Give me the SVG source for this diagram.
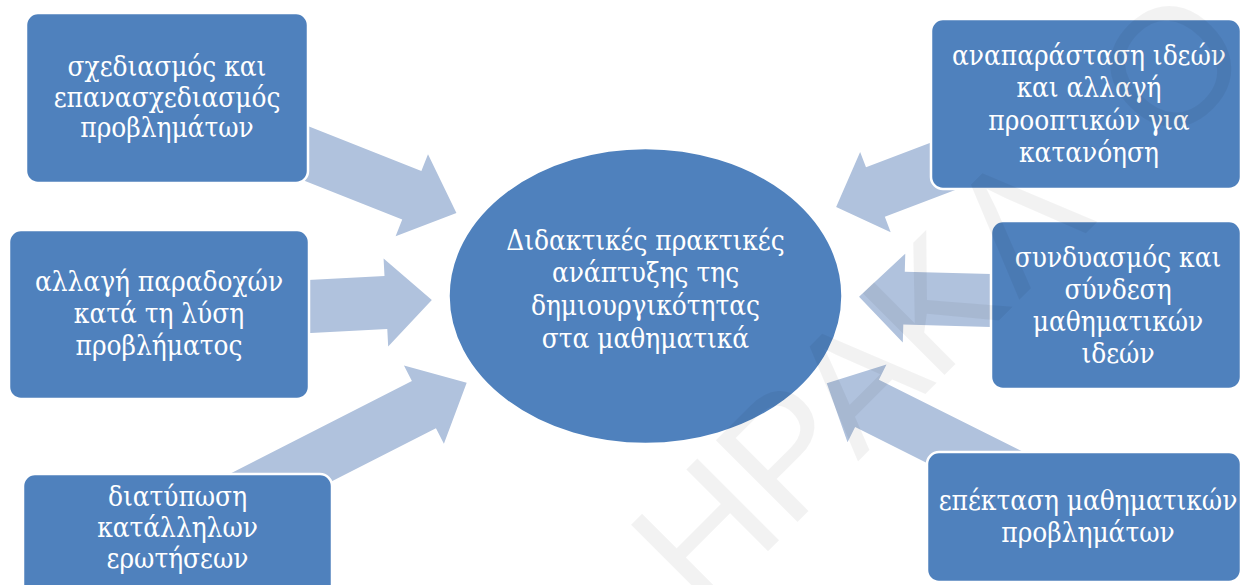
<svg xmlns="http://www.w3.org/2000/svg" width="1242" height="585" viewBox="0 0 1242 585">
  <style>
    .arrow { fill: #b0c2dd; }
    .node { fill: #4f81bd; stroke: #ffffff; stroke-width: 2.5; }
    .label { font-family: "DejaVu Serif Condensed", "DejaVu Serif", serif; font-stretch: condensed; font-size: 27.7px; fill: #ffffff; text-anchor: middle; }
    .mark { font-family: "Liberation Sans", Arial, sans-serif; font-size: 168px; fill: #000000; fill-opacity: 0.05; text-anchor: middle; }
  </style>

  <rect width="1242" height="585" fill="#ffffff"/>

  <!-- block arrows pointing at the central ellipse -->
  <g id="connectors">
    <polygon class="arrow" points="0,-26 131,-26 131,-44 179,0 131,44 131,26 0,26" transform="translate(290,147) rotate(21.6)"/>
    <polygon class="arrow" points="0,-26.5 86,-26.5 86,-44 132,0 86,44 86,26.5 0,26.5" transform="translate(300,307) rotate(-3)"/>
    <polygon class="arrow" points="0,-26.5 230,-26.5 230,-44 278,0 230,44 230,26.5 0,26.5" transform="translate(219,509) rotate(-27)"/>
    <polygon class="arrow" points="0,-26.5 83,-26.5 83,-43 125,0 83,43 83,26.5 0,26.5" transform="translate(953,162.6) rotate(159.2)"/>
    <polygon class="arrow" points="0,-26.5 96,-26.5 96,-44.5 141,0 96,44.5 96,26.5 0,26.5" transform="translate(1000,300.8) rotate(181.6)"/>
    <polygon class="arrow" points="0,-26.5 170,-26.5 170,-43.5 215,0 170,43.5 170,26.5 0,26.5" transform="translate(1019,479.5) rotate(206.6)"/>
  </g>

  <g id="center">
    <ellipse class="node" cx="645.5" cy="296" rx="197" ry="148"/>
    <text class="label"><tspan x="645.5" y="250">Διδακτικές πρακτικές</tspan><tspan x="645.5" y="282">ανάπτυξης της</tspan><tspan x="645.5" y="315">δημιουργικότητας</tspan><tspan x="645.5" y="348">στα μαθηματικά</tspan></text>
  </g>

  <g id="node-design">
    <rect class="node" x="26" y="13" width="282" height="170" rx="12"/>
    <text class="label"><tspan x="167" y="76">σχεδιασμός και</tspan><tspan x="167" y="107">επανασχεδιασμός</tspan><tspan x="167" y="137">προβλημάτων</tspan></text>
  </g>

  <g id="node-assumptions">
    <rect class="node" x="9" y="230" width="300" height="169" rx="12"/>
    <text class="label"><tspan x="159" y="291">αλλαγή παραδοχών</tspan><tspan x="159" y="323">κατά τη λύση</tspan><tspan x="159" y="355">προβλήματος</tspan></text>
  </g>

  <g id="node-questions">
    <rect class="node" x="23" y="474" width="309" height="130" rx="12"/>
    <text class="label"><tspan x="177.5" y="506">διατύπωση</tspan><tspan x="177.5" y="537">κατάλληλων</tspan><tspan x="177.5" y="568">ερωτήσεων</tspan></text>
  </g>

  <g id="node-representation">
    <rect class="node" x="931" y="19" width="310" height="170" rx="12"/>
    <text class="label"><tspan x="1089" y="65">αναπαράσταση ιδεών</tspan><tspan x="1089" y="97">και αλλαγή</tspan><tspan x="1089" y="130">προοπτικών για</tspan><tspan x="1089" y="162">κατανόηση</tspan></text>
  </g>

  <g id="node-connection">
    <rect class="node" x="991" y="221" width="250" height="168" rx="12"/>
    <text class="label"><tspan x="1118" y="267">συνδυασμός και</tspan><tspan x="1118" y="299">σύνδεση</tspan><tspan x="1118" y="331">μαθηματικών</tspan><tspan x="1118" y="363">ιδεών</tspan></text>
  </g>

  <g id="node-extension">
    <rect class="node" x="927" y="452" width="314" height="130" rx="12"/>
    <text class="label"><tspan x="1088" y="510">επέκταση μαθηματικών</tspan><tspan x="1088" y="542">προβλημάτων</tspan></text>
  </g>

  <!-- faint diagonal watermark over the page -->
  <g id="watermark" transform="rotate(-45)">
    <text class="mark" y="933"><tspan x="122">Η</tspan><tspan x="237">Ρ</tspan><tspan x="336">Α</tspan><tspan x="445">Κ</tspan><tspan x="564">Λ</tspan><tspan x="781">Ο</tspan></text>
  </g>
</svg>
